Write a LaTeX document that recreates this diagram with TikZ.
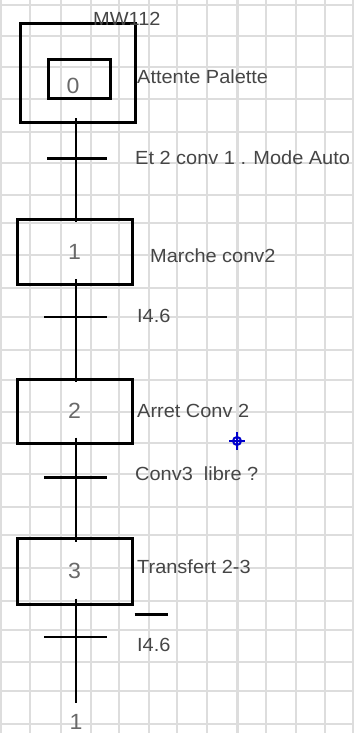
\documentclass[tikz,border=0pt]{standalone}
\usepackage{fontspec}
\setmainfont{Liberation Sans}
\newfontfamily\grafcetfont[FakeStretch=1.05]{Liberation Sans}
\usetikzlibrary{positioning,calc}
\definecolor{gridgray}{RGB}{221,221,221}
\definecolor{textgray}{RGB}{70,70,70}
\definecolor{numgray}{RGB}{105,105,105}
\definecolor{cursorblue}{RGB}{0,0,204}
\tikzstyle{gridline} = [draw=gridgray,line width=2.3pt]
\tikzstyle{etape} = [draw,line width=3pt,rectangle,minimum width=115pt,minimum height=65pt,inner sep=0pt,font=\grafcetfont\fontsize{22}{22}\selectfont,text=numgray]
\tikzstyle{stepnum} = [inner sep=0pt,font=\grafcetfont\fontsize{22}{22}\selectfont,text=numgray]
\tikzstyle{link} = [draw,line width=2.6pt]
\tikzstyle{trans} = [draw,line width=2.5pt]
\tikzstyle{action} = [anchor=base west,inner sep=0pt,font=\grafcetfont\fontsize{19}{19}\selectfont,text=textgray]

\begin{document}
\begin{tikzpicture}[x=1pt,y=-1pt]
    \useasboundingbox (0,0) rectangle (354,733);
    \fill[white] (0,0) rectangle (354,733);
    \foreach \gx in {1,30,61,91,119,149,177,207,237,266,296,325,353}
        \draw[gridline] (\gx,0) -- (\gx,733);
    \foreach \gy in {5,36,67,99,132,163,195,223,255,288,317,350,380,412,443,474,507,535,568,601,630,662,691,724}
        \draw[gridline] (0,\gy) -- (354,\gy);
    \draw[gridline, line width=3pt] (237,0) -- (237,733);

    \coordinate (axis) at (76,0);
    \node[etape, minimum height=99pt] (s0) at (77.5,73.5) {};
    \node[etape, minimum width=62pt, minimum height=39pt] (s0in) at (79,79.5) {};
    \node[stepnum] (n0) at (73,86) {0};
    \node[etape] (s1) at (74.5,252) {1};
    \node[etape, minimum height=64pt] (s2) at (74.5,411) {2};
    \node[etape, minimum height=66pt] (s3) at (74.5,571) {3};

    \coordinate (t0) at (76,158);
    \coordinate (t1) at (76,317);
    \coordinate (t2) at (76,477);
    \coordinate (t3) at (76,637);
    \coordinate (jump) at (76,703);
    \node[stepnum, below=11pt of jump] (jumpnum) {1};

    \draw[link] ([yshift=6pt]s0.south -| axis) -- ([yshift=-4pt]s1.north -| axis);
    \draw[link] ([yshift=7pt]s1.south -| axis) -- ([yshift=-4pt]s2.north -| axis);
    \draw[link] ([yshift=7pt]s2.south -| axis) -- ([yshift=-5pt]s3.north -| axis);
    \draw[link] ([yshift=7pt]s3.south -| axis) -- (jump);
    \draw[link] ($(s3.south east)+(1,9)$) -- ++(33,0);

    \draw[trans, line width=3pt] ([xshift=-29pt]t0) -- ([xshift=31pt]t0);
    \draw[trans, line width=2pt] ([xshift=-32pt]t1) -- ([xshift=31pt]t1);
    \draw[trans, line width=3pt] ([xshift=-32pt]t2) -- ([xshift=31pt]t2);
    \draw[trans, line width=2pt] ([xshift=-32pt]t3) -- ([xshift=31pt]t3);

    \node[action] (mw) at (93,26) {MW112};
    \node[action] (attente) at (137,84) {Attente Palette};
    \node[action] (cond0) at (135,164.5) {Et 2 conv 1 . Mode Auto};
    \node[action] (marche) at (150,262) {Marche conv2};
    \node[action] (cond1) at (137,322) {I4.6};
    \node[action] (arret) at (137,417) {Arret Conv 2};
    \node[action] (cond2) at (135,480) {Conv3 \ libre ?};
    \node[action] (transfert) at (137,573) {Transfert 2-3};
    \node[action] (cond3) at (137,651) {I4.6};

    \coordinate (cursor) at (237,441);
    \draw[cursorblue, line width=2pt] (cursor) circle (4pt);
    \draw[cursorblue, line width=2pt] ($(cursor)+(-8,0)$) -- ($(cursor)+(8,0)$);
    \draw[cursorblue, line width=2pt] ($(cursor)+(0,-9)$) -- ($(cursor)+(0,9)$);
\end{tikzpicture}
\end{document}
